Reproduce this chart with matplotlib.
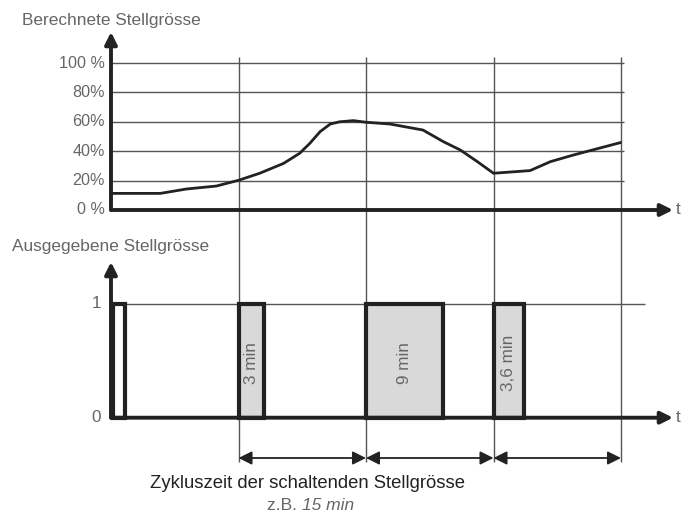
import matplotlib.pyplot as plt

# data
curve_t = [0, 5.8, 8.9, 12.4, 15, 17.5, 20.3, 22.2, 23.4, 24.6, 25.8, 26.9,
           28.5, 30, 32.8, 36.7, 39.1, 41.1, 43.1, 45, 49.3, 51.7, 54.4, 59.9]
curve_pct = [11.3, 11.3, 14.3, 16.3, 20.2, 25, 31.7, 38.6, 45.4, 53.3, 58.5, 60,
             60.8, 59.7, 58.5, 54.4, 46.5, 40.8, 32.9, 25, 26.8, 32.9, 37.4, 45.8]
pct_ticks = [0, 20, 40, 60, 80, 100]
pct_labels = ['0 %', '20%', '40%', '60%', '80%', '100 %']
cycle_marks = [15, 30, 45, 60]
pulse_start = [0.2, 15, 30, 45]
pulse_len = [1.5, 3, 9, 3.6]
pulse_text = ['', '3 min', '9 min', '3,6 min']
pulse_fill = ['white', '#d9d9d9', '#d9d9d9', '#d9d9d9']

W, H = 684, 513
PX_MIN = 8.5      # pixels per minute
X0 = 111          # pixel of t = 0

plt.rcParams['font.family'] = ['Liberation Sans', 'DejaVu Sans']

fig = plt.figure(figsize=(W / 100, H / 100), dpi=100)
top = fig.add_axes([0, 0, 1, 1])
bot = fig.add_axes([0, 0, 1, 1])
for ax in (top, bot):
    ax.set_axis_off()
    ax.patch.set_alpha(0)
    ax.set_xlim(-X0 / PX_MIN, (W - X0) / PX_MIN)

# top panel: 0 % at px 210, 100 % at px 63
y0t, sc_t = 210, 1.47
top.set_ylim((y0t - H) / sc_t, y0t / sc_t)
# bottom panel: 0 at px 417.7, 1 at px 304
y0b, sc_b = 417.7, 113.7
bot.set_ylim((y0b - H) / sc_b, y0b / sc_b)

def ty(px):
    return (y0t - px) / sc_t

def by(px):
    return (y0b - px) / sc_b

dark = '#222222'
grid = '#555555'
txt = '#666666'
fs = 12.3

# grid
top.hlines(pct_ticks[1:], 0, (624 - X0) / PX_MIN, color=grid, lw=1)
top.vlines(cycle_marks, ty(462), ty(57), color=grid, lw=1)
bot.hlines([1], 0, (645 - X0) / PX_MIN, color=grid, lw=1)

# axes with arrows
t_end = (673 - X0) / PX_MIN
aprops = dict(arrowstyle='-|>', lw=2.8, color=dark, mutation_scale=18,
              shrinkA=0, shrinkB=0)
top.annotate('', xy=(0, ty(32)), xytext=(0, 0), arrowprops=aprops)
top.annotate('', xy=(t_end, 0), xytext=(0, 0), arrowprops=aprops)
bot.annotate('', xy=(0, by(262)), xytext=(0, 0), arrowprops=aprops)

# pulses
bot.bar(pulse_start, 1, width=pulse_len, align='edge', color=pulse_fill,
        edgecolor=dark, linewidth=3, zorder=3)
bot.annotate('', xy=(t_end, 0), xytext=(0, 0), arrowprops=aprops, zorder=4)
for s, d, lab in zip(pulse_start, pulse_len, pulse_text):
    bot.text(s + d / 2, by(363), lab, rotation=90, ha='center', va='center',
             fontsize=fs, color=txt, zorder=5)

# curve
top.plot(curve_t, curve_pct, color=dark, lw=2, solid_joinstyle='round')

# tick labels
for v, lab in zip(pct_ticks, pct_labels):
    top.text(-6 / PX_MIN, v, lab, ha='right', va='center', fontsize=11.6,
             color=txt)
for v in [0, 1]:
    bot.text(-10 / PX_MIN, v, str(v), ha='right', va='center', fontsize=fs,
             color=txt)
top.text((676 - X0) / PX_MIN, 0, 't', ha='left', va='center', fontsize=fs,
         color=txt)
bot.text((676 - X0) / PX_MIN, 0, 't', ha='left', va='center', fontsize=fs,
         color=txt)

# titles
top.text((22 - X0) / PX_MIN, ty(20), 'Berechnete Stellgrösse', ha='left',
         va='center', fontsize=12.4, color=txt)
bot.text((12 - X0) / PX_MIN, by(247), 'Ausgegebene Stellgrösse', ha='left',
         va='center', fontsize=12.4, color=txt)

# cycle arrows
cprops = dict(arrowstyle='<|-|>', lw=1.3, color=dark, mutation_scale=20,
              shrinkA=0, shrinkB=0)
for a, b in zip(cycle_marks[:-1], cycle_marks[1:]):
    bot.annotate('', xy=(b, by(458)), xytext=(a, by(458)), arrowprops=cprops)

xc = (307 - X0) / PX_MIN
bot.text(xc, by(483), 'Zykluszeit der schaltenden Stellgrösse', ha='center',
         va='center', fontsize=13.3, color=dark)
bot.text(xc - 0.6, by(505), 'z.B. ', ha='right', va='center', fontsize=12.5,
         color=txt)
bot.text(xc - 0.6, by(505), '15 min', ha='left', va='center', fontsize=12.5,
         color=txt, fontstyle='italic')

fig.savefig('out.png', dpi=100)
